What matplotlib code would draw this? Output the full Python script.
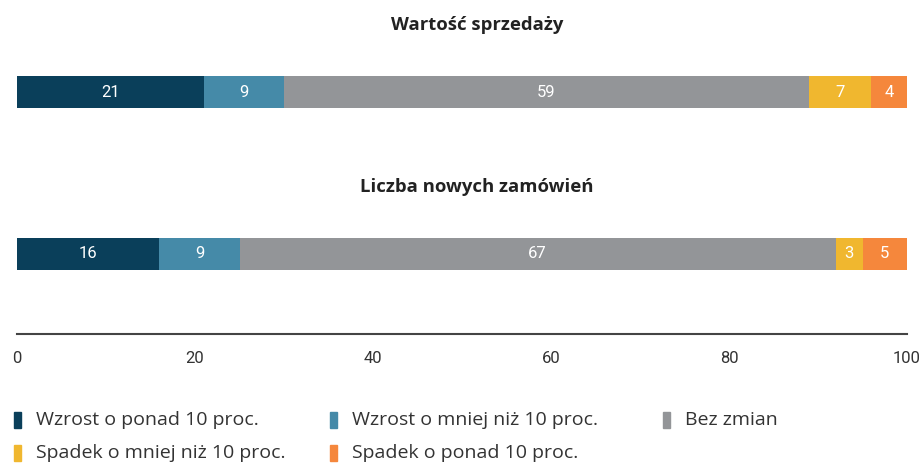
import matplotlib.pyplot as plt
from matplotlib.patches import Rectangle

# Dane
tytuly = ["Wartość sprzedaży", "Liczba nowych zamówień"]
kategorie = ["Wzrost o ponad 10 proc.", "Wzrost o mniej niż 10 proc.", "Bez zmian",
             "Spadek o mniej niż 10 proc.", "Spadek o ponad 10 proc."]
wartosci = [
    [21, 9, 59, 7, 4],
    [16, 9, 67, 3, 5],
]
kolory = ["#0a3f5a", "#458aa8", "#939598", "#f0b72f", "#f5873c"]
ticki = [0, 20, 40, 60, 80, 100]

plt.rcParams["font.family"] = ["Roboto", "DejaVu Sans"]

fig = plt.figure(figsize=(9.24, 4.63), dpi=100)
W, H = 924, 463
# osie: x od 17 do 907 px, y od 0 do 334 px
ax = fig.add_axes([17 / W, (H - 334) / H, 890 / W, 334 / H])

for i, wiersz in enumerate(wartosci):
    lewo = 0
    for v, c in zip(wiersz, kolory):
        ax.barh(i, v, left=lewo, height=0.1975, color=c, edgecolor="none")
        ax.text(lewo + v / 2, i, str(v), ha="center", va="center",
                color="white", fontsize=12)
        lewo += v
    ax.text(51.7, i - 0.414, tytuly[i], ha="center", va="center",
            fontsize=13.3, fontweight="bold", color="#222222",
            family=["Open Sans", "DejaVu Sans"])

ax.set_xlim(0, 100)
ax.set_ylim(1.494, -0.568)
ax.set_xticks(ticki)
ax.set_xticklabels([str(t) for t in ticki], fontsize=12, color="#333333")
ax.tick_params(axis="x", length=0, pad=12)
ax.set_yticks([])
for s in ["top", "left", "right"]:
    ax.spines[s].set_visible(False)
ax.spines["bottom"].set_color("#444444")
ax.spines["bottom"].set_linewidth(1.5)

# Legenda
pozycje = [(14, 420), (330, 420), (663, 420), (14, 453), (330, 453)]
for (px, py), nazwa, c in zip(pozycje, kategorie, kolory):
    fig.patches.append(Rectangle((px / W, (H - py - 8) / H), 7 / W, 16 / H,
                                 transform=fig.transFigure, color=c))
    fig.text((px + 22) / W, (H - py) / H, nazwa, ha="left", va="center",
             fontsize=14, color="#333333", family=["Open Sans", "DejaVu Sans"])

fig.savefig("out.png", dpi=100)
